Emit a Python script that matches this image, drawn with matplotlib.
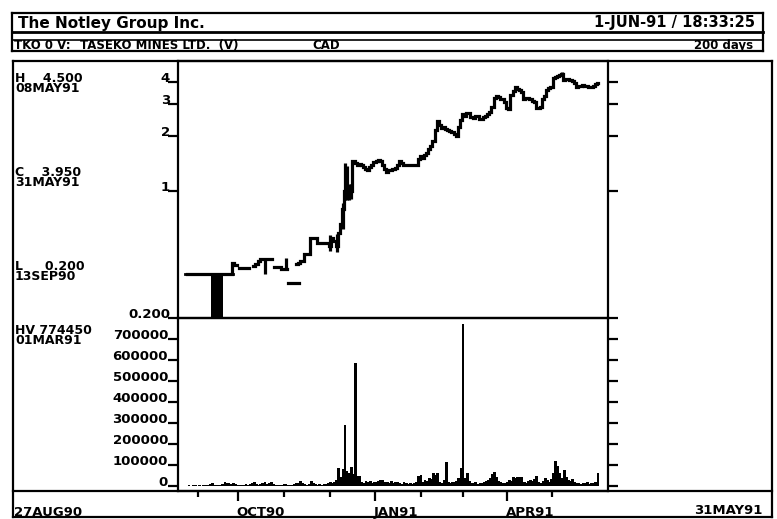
import numpy as np
import matplotlib
matplotlib.use("Agg")
import matplotlib.pyplot as plt
from matplotlib.ticker import NullLocator, FixedLocator

nan = np.nan

# ---------------- data ----------------
# trading-day index 0 = 27AUG90 ... 195 = 31MAY91
close = [
    0.35, 0.35, 0.35, 0.35, 0.35, 0.35, 0.35, 0.35, 0.35, 0.35,
    0.35, 0.35, 0.35, 0.35, 0.35, 0.35, 0.35, 0.35, 0.35, 0.35,
    0.35, 0.35, 0.40, 0.39, nan, 0.375, 0.375, 0.375, 0.375, 0.375,
    nan, nan, 0.385, 0.395, 0.41, 0.42, 0.42, 0.42, 0.42, 0.42,
    0.42, nan, 0.38, 0.38, 0.38, 0.37, 0.37, 0.37, nan, nan,
    nan, nan, 0.395, 0.40, 0.41, 0.41, 0.45, 0.45, 0.45, 0.55,
    0.55, 0.55, 0.52, 0.52, 0.52, 0.52, 0.52, 0.52, 0.50, 0.55,
    0.53, 0.50, 0.59, 0.66, 0.80, 1.00, 0.95, 1.05, 1.00, 1.46,
    1.42, 1.40, 1.41, 1.39, 1.36, 1.33, 1.31, 1.36, 1.40, 1.44,
    1.46, 1.48, 1.46, 1.40, 1.33, 1.28, 1.30, 1.31, 1.33, 1.34,
    1.40, 1.46, 1.43, 1.40, 1.39, 1.39, 1.40, 1.39, 1.39, 1.40,
    1.50, 1.55, 1.53, 1.58, 1.62, 1.70, 1.76, 1.88, 2.18, 2.42,
    2.30, 2.23, 2.25, 2.20, 2.18, 2.15, 2.12, 2.05, 2.00, 2.25,
    2.45, 2.64, 2.58, 2.70, 2.68, 2.55, 2.52, 2.58, 2.60, 2.50,
    2.48, 2.55, 2.60, 2.65, 2.72, 2.90, 3.25, 3.32, 3.30, 3.22,
    3.20, 3.08, 2.85, 2.82, 3.40, 3.55, 3.72, 3.65, 3.58, 3.50,
    3.22, 3.25, 3.27, 3.22, 3.15, 3.10, 2.88, 2.86, 2.90, 3.20,
    3.35, 3.62, 3.70, 3.72, 4.20, 4.25, 4.30, 4.35, 4.42, 4.10,
    4.12, 4.15, 4.10, 4.05, 3.95, 3.75, 3.80, 3.78, 3.82, 3.80,
    3.78, 3.76, 3.72, 3.80, 3.88, 3.95,
]

# high-low bars on notable days
hl_days = [37, 47, 68, 71, 74, 75, 76, 77, 78, 178]
hl_low = [0.35, 0.37, 0.47, 0.46, 0.62, 0.89, 0.89, 0.89, 0.90, 4.30]
hl_high = [0.42, 0.43, 0.57, 0.58, 0.86, 1.42, 1.38, 1.10, 1.10, 4.50]

# the 13SEP90 low bar
low_bar_day = 14.2
low_bar_low = 0.20
low_bar_high = 0.35

# isolated low trade
low_dash_days = [48, 49, 50, 51, 52, 53]
low_dash_vals = [0.31, 0.31, 0.31, 0.31, 0.31, 0.31]

# volume in thousands of shares
volume_k = [
    2, 3, 2, 4, 3, 2, 3, 2, 4, 3,
    5, 8, 14, 6, 4, 3, 5, 8, 18, 12,
    15, 10, 16, 8, 5, 4, 6, 5, 8, 6,
    10, 12, 17, 9, 6, 8, 12, 18, 10, 14,
    19, 9, 6, 5, 7, 6, 8, 10, 6, 5,
    7, 9, 12, 15, 22, 14, 8, 6, 10, 22,
    12, 8, 6, 9, 7, 10, 8, 12, 17, 14,
    20, 30, 84, 45, 80, 292, 70, 60, 92, 55,
    587, 46, 48, 20, 12, 22, 18, 25, 15, 20,
    18, 22, 30, 28, 20, 18, 15, 22, 12, 20,
    18, 15, 10, 20, 12, 8, 15, 10, 12, 18,
    48, 54, 20, 30, 25, 40, 35, 62, 50, 62,
    20, 15, 30, 115, 18, 12, 20, 18, 25, 40,
    86, 774.45, 40, 60, 25, 15, 12, 18, 10, 15,
    12, 20, 25, 30, 40, 55, 69, 45, 25, 18,
    15, 12, 20, 30, 22, 45, 40, 45, 44, 45,
    20, 15, 25, 30, 22, 35, 48, 20, 15, 25,
    40, 30, 20, 35, 60, 117, 93, 60, 40, 77,
    45, 30, 25, 35, 20, 15, 12, 10, 15, 12,
    18, 10, 15, 12, 20, 62,
]

price_ticks = [0.2, 1, 2, 3, 4]
price_tick_labels = ["0.200", "1", "2", "3", "4"]
vol_ticks = [0, 100000, 200000, 300000, 400000, 500000, 600000, 700000]
vol_tick_labels = ["0", "100000", "200000", "300000", "400000", "500000", "600000", "700000"]
major_days = [24, 89, 152]
major_labels = ["OCT90", "JAN91", "APR91"]
minor_days = [5, 46, 68, 111, 131, 173]

summary_blocks = [
    ("H    4.500\n08MAY91", 81),
    ("C    3.950\n31MAY91", 175),
    ("L     0.200\n13SEP90", 269),
    ("HV 774450\n01MAR91", 333),
]

days = np.arange(len(close))
close_arr = np.array(close, dtype=float)
vol_arr = np.array(volume_k, dtype=float) * 1000

# ---------------- figure ----------------
plt.rcParams['font.family'] = ['DejaVu Sans']
plt.rcParams['font.weight'] = 'bold'
W, H = 777, 519
fig = plt.figure(figsize=(W / 100, H / 100), dpi=100)
fig.patch.set_facecolor('white')

ov = fig.add_axes([0, 0, 1, 1])
ov.set_xlim(0, W)
ov.set_ylim(H, 0)
ov.axis('off')

def seg(x0, y0, x1, y1, lw=1.6):
    ov.plot([x0, x1], [y0, y1], color='black', lw=lw, solid_capstyle='projecting')

# header box
seg(11.5, 13, 763, 13)
seg(11.5, 50.5, 763, 50.5)
seg(11.5, 13, 11.5, 50.5)
seg(763, 13, 763, 50.5)
seg(11.5, 32, 763, 32, lw=2.0)
seg(11.5, 39.5, 763, 39.5, lw=1.2)
# chart box
seg(13, 61, 772, 61)
seg(13, 517, 772, 517)
seg(13, 61, 13, 517)
seg(772, 61, 772, 517)
seg(13, 491, 772, 491)

fs = 9.5
hs = 8.5
ov.text(18, 28, "The Notley Group Inc.", fontsize=11, ha='left', va='baseline')
ov.text(755, 27.5, "1-JUN-91 / 18:33:25", fontsize=10.5, ha='right', va='baseline')
ov.text(14, 49.2, "TKO 0 V:", fontsize=hs, ha='left', va='baseline')
ov.text(80, 49.2, "TASEKO MINES LTD.  (V)", fontsize=hs, ha='left', va='baseline')
ov.text(312, 49.2, "CAD", fontsize=hs, ha='left', va='baseline')
ov.text(753, 49.2, "200 days", fontsize=hs, ha='right', va='baseline')

# left column summary (two lines each)
em = 9 * 100 / 72.0
for txt, base in summary_blocks:
    ov.text(15, base - 0.76 * em, txt, fontsize=9, ha='left', va='top',
            linespacing=0.76)

ov.text(14, 516, "27AUG90", fontsize=fs, ha='left', va='baseline')
ov.text(762, 514, "31MAY91", fontsize=fs, ha='right', va='baseline')

# ---------------- price axes ----------------
left = 177.5 / W
width = 430.5 / W
axp = fig.add_axes([left, 1 - 318 / H, width, 257 / H])
axv = fig.add_axes([left, 1 - 491 / H, width, 173 / H])
for ax in (axp, axv):
    ax.set_facecolor('none')
    ax.set_xlim(-4.5, 199.8)
    for s in ax.spines.values():
        s.set_linewidth(1.6)

axp.set_yscale('log')
axp.set_ylim(0.2, 5.2)
axp.plot(days, close_arr, drawstyle='steps-mid', color='black', lw=2.3,
         solid_joinstyle='miter')
axp.vlines(hl_days, hl_low, hl_high, color='black', lw=2.3)
axp.bar([low_bar_day], [low_bar_high - low_bar_low], bottom=low_bar_low,
        width=5.7, color='black', linewidth=0)
axp.plot([-1, 22], [low_bar_high, low_bar_high], color='black', lw=2.0)
axp.plot(low_dash_days, low_dash_vals, color='black', lw=2.3)

axp.yaxis.set_major_locator(FixedLocator(price_ticks))
axp.yaxis.set_minor_locator(NullLocator())
axp.tick_params(axis='y', which='both', left=True, right=True, direction='out',
                length=7, width=1.6, labelleft=False, labelright=False)
axp.set_xticks([])
ytr = axp.get_yaxis_transform()
for v, lab in zip(price_ticks, price_tick_labels):
    axp.text(-0.017, v, lab, transform=ytr, ha='right', va='baseline',
             fontsize=fs)

# ---------------- volume axes ----------------
axv.bar(days, vol_arr, width=1.3, color='black', linewidth=0)
axv.set_ylim(-24000, 801500)
axv.set_yticks(vol_ticks)
axv.tick_params(axis='y', which='both', left=True, right=True, direction='out',
                length=7, width=1.6, labelleft=False, labelright=False)
vtr = axv.get_yaxis_transform()
for v, lab in zip(vol_ticks, vol_tick_labels):
    axv.text(-0.022, v, lab, transform=vtr, ha='right', va='baseline',
             fontsize=fs)

axv.set_xticks(major_days)
axv.set_xticks(minor_days, minor=True)
axv.tick_params(axis='x', which='major', direction='out', length=7.5, width=1.6,
                labelbottom=False, top=False)
axv.tick_params(axis='x', which='minor', direction='out', length=4.5, width=1.6,
                labelbottom=False, top=False)
xtr = axv.get_xaxis_transform()
for d, lab in zip(major_days, major_labels):
    axv.text(d - 0.5, -0.142, lab, transform=xtr, ha='left', va='baseline',
             fontsize=fs)

fig.savefig("out.png", dpi=100, facecolor='white')
